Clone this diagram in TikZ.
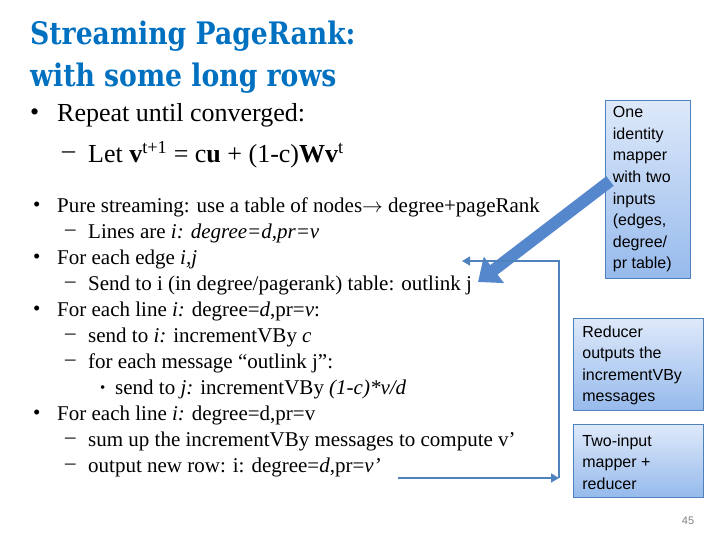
\documentclass[tikz,border=0pt]{standalone}
\usepackage{fontspec}
\setmainfont{Liberation Serif}
\newfontfamily\boxfont{Liberation Sans}
\newfontfamily\titlefont{DejaVu Serif}
\usetikzlibrary{arrows.meta}
\definecolor{ttl}{RGB}{0,112,192}
\definecolor{edge}{RGB}{79,129,189}
\definecolor{light}{RGB}{222,233,250}
\definecolor{dark}{RGB}{150,186,236}
\definecolor{arr}{RGB}{85,135,205}
\tikzset{
  txt/.style={anchor=west,inner sep=0pt,font=\fontsize{21}{21}\selectfont},
  big/.style={anchor=west,inner sep=0pt,font=\fontsize{26}{26}\selectfont},
  box/.style={draw=edge,line width=0.8pt,top color=light,bottom color=dark,anchor=north west,inner sep=0pt,align=left,font=\boxfont\fontsize{16}{21.6}\selectfont},
  loop/.style={draw=edge,line width=1.6pt,-{Triangle[length=8pt,width=9pt]}}
}
\begin{document}
\begin{tikzpicture}[x=1pt,y=-1pt]
\useasboundingbox (0,0) rectangle (720,540);
\node[anchor=west,inner sep=0pt,text=ttl,font=\titlefont\bfseries\fontsize{31}{42}\selectfont,align=left,xscale=0.86] (title) at (30,57) {Streaming PageRank:\\with some long rows};
\node[big] (b1) at (30,115) {•};
\node[big] (t1) at (57,115) {Repeat until converged:};
\node[big] (d1) at (62,155) {–};
\node[big] (t2) at (88,155) {Let \textbf{v}\textsuperscript{t+1} = c\textbf{u} + (1-c)\textbf{Wv}\textsuperscript{t}};
\foreach \y in {207,259,311,415}{\node[txt] at (33,\y) {•};}
\node[txt] (l1) at (57,207) {Pure streaming: use a table of nodes$\rightarrow$ degree+pageRank};
\node[txt] at (65,233) {–}; \node[txt] (l2) at (88,233) {Lines are \textit{i: degree=d,pr=v}};
\node[txt] (l3) at (57,259) {For each edge \textit{i,j}};
\node[txt] at (65,285) {–}; \node[txt] (l4) at (88,285) {Send to i (in degree/pagerank) table: outlink j};
\node[txt] (l5) at (57,311) {For each line \textit{i:} degree=\textit{d},pr=\textit{v}:};
\node[txt] at (65,337) {–}; \node[txt] (l6) at (88,337) {send to \textit{i:} incrementVBy \textit{c}};
\node[txt] at (65,363) {–}; \node[txt] (l7) at (88,363) {for each message “outlink j”:};
\node[txt,font=\fontsize{15}{15}\selectfont] at (100,389) {•}; \node[txt] (l8) at (115,389) {send to \textit{j:} incrementVBy \textit{(1-c)*v/d}};
\node[txt] (l9) at (57,415) {For each line \textit{i:} degree=d,pr=v};
\node[txt] at (65,441) {–}; \node[txt] (l10) at (88,441) {sum up the incrementVBy messages to compute v’};
\node[txt] at (65,467) {–}; \node[txt] (l11) at (88,467) {output new row: i: degree=\textit{d},pr=\textit{v’}};
\node[box,minimum width=85pt,minimum height=178pt] (m1) at (605,100) {\hspace*{6pt}\parbox[t]{76pt}{\vspace*{0pt}One\\identity\\mapper\\with two\\inputs\\(edges,\\degree/\\pr table)}};
\node[box,minimum width=130pt,minimum height=92pt] (m2) at (573,318) {\hspace*{8pt}\parbox[t]{120pt}{\vspace*{2pt}Reducer\\outputs the\\incrementVBy\\messages}};
\node[box,minimum width=130pt,minimum height=73pt] (m3) at (573,424) {\hspace*{8pt}\parbox[t]{120pt}{\vspace*{2pt}Two-input\\mapper +\\reducer}};
\coordinate (tip) at (478,282);
\coordinate (src) at (610,181);
\draw[arr,line width=12pt,-{Triangle[length=20pt,width=32pt]}] (src) -- (tip);
\coordinate (ls) at (398,478);
\coordinate (rc) at (559,478);
\coordinate (tc) at (559,261);
\coordinate (le) at (462,261);
\draw[loop] (ls) -- (rc);
\draw[loop] (rc) -- (tc) -- (le);
\node[font=\boxfont\fontsize{11}{11}\selectfont,text=gray] (pg) at (688,521) {45};
\end{tikzpicture}
\end{document}
